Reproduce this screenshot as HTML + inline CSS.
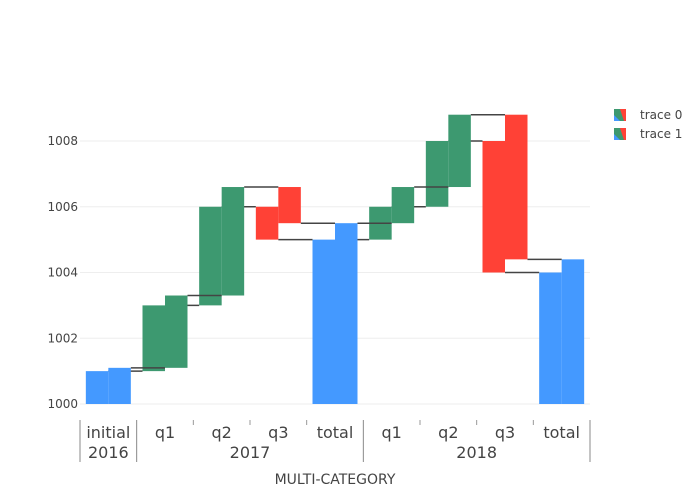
<!DOCTYPE html>
<html><head><meta charset="utf-8"><style>
body{margin:0;background:#fff;font-family:"DejaVu Sans",sans-serif;}
svg text{font-family:"DejaVu Sans","Liberation Sans",sans-serif;}
</style></head><body>
<svg id="chart" width="700" height="500" xmlns="http://www.w3.org/2000/svg">
<g id="grid"></g>
<g id="bars"></g>
<g id="xaxis"></g>
<g id="yaxis"></g>
<text x="335" y="484" text-anchor="middle" font-size="14" fill="#444">MULTI-CATEGORY</text>
<g>
  <g>
    <rect x="614" y="109" width="12" height="12" fill="#3D9970"/><polygon points="620,109 626,109 626,121 624,121" fill="#FF4136"/><polygon points="614,115 620,121 614,121" fill="#4499FF"/>
    <text x="640" y="119" font-size="12" fill="#444">trace 0</text>
  </g>
  <g>
    <rect x="614" y="128" width="12" height="12" fill="#3D9970"/><polygon points="620,128 626,128 626,140 624,140" fill="#FF4136"/><polygon points="614,134 620,140 614,140" fill="#4499FF"/>
    <text x="640" y="138" font-size="12" fill="#444">trace 1</text>
  </g>
</g>
</svg>
<script>
const innerCats = ["initial","q1","q2","q3","total","q1","q2","q3","total"];
const outerCats = ["2016","2017","2018"];
const outerSpans = [1,4,4];
const measures = ["absolute","relative","relative","relative","total","relative","relative","relative","total"];
const trace0 = [1,2,3,-1,null,1,2,-4,null];
const trace1 = [1.1,2.2,3.3,-1.1,null,1.1,2.2,-4.4,null];
const yTicks = [1000,1002,1004,1006,1008];
const base = 1000;

const NS="http://www.w3.org/2000/svg";
const X0=80,X1=590,Y0=404,Ypx=263/8;
const cw=(X1-X0)/innerCats.length;
const y=v=>Y0-(v-1000)*Ypx;
const cx=i=>X0+cw*(i+0.5);
function mk(tag,attrs,parent){const e=document.createElementNS(NS,tag);for(const k in attrs)e.setAttribute(k,attrs[k]);parent.appendChild(e);return e;}
const grid=document.getElementById('grid'),bars=document.getElementById('bars'),xa=document.getElementById('xaxis'),ya=document.getElementById('yaxis');
yTicks.forEach(t=>{
  const l=mk('line',{x1:X0,x2:X1,y1:y(t),y2:y(t),stroke:'#eee','stroke-width':1},grid);
  
  
  const tx=mk('text',{x:X0-2,y:y(t)+4,'text-anchor':'end','font-size':12,fill:'#444'},ya);
  tx.textContent=t;
  
  
});
const bw=22.5;
[trace0,trace1].forEach((tr,ti)=>{
  let cum=base;
  const ends=[];
  tr.forEach((v,i)=>{
    let a,b,col;
    if(measures[i]==='total'){a=base;b=cum;col='#4499FF';}
    else if(measures[i]==='absolute'){a=base;b=base+v;cum=b;col='#4499FF';}
    else{a=cum;b=cum+v;cum=b;col=v>=0?'#3D9970':'#FF4136';}
    const left=cx(i)-bw+ti*bw;
    const r=mk('rect',{x:left,y:Math.min(y(a),y(b)),width:bw,height:Math.abs(y(a)-y(b)),fill:col},bars);
    
    
    ends.push({left,right:left+bw,val:cum});
  });
  for(let i=0;i<ends.length-1;i++){
    const c=mk('line',{x1:ends[i].right,x2:ends[i+1].left,y1:y(ends[i].val),y2:y(ends[i].val),stroke:'#444','stroke-width':1.5},bars);
    
    
  }
});
innerCats.forEach((c,i)=>{
  const t=mk('text',{x:cx(i),y:438,'text-anchor':'middle','font-size':16,fill:'#444'},xa);
  t.textContent=c;
  
  
});
let start=0;
const divs=[0];
outerCats.forEach((c,k)=>{
  const mid=X0+cw*(start+outerSpans[k]/2);
  const t=mk('text',{x:mid,y:458,'text-anchor':'middle','font-size':16,fill:'#444'},xa);
  t.textContent=c;
  
  
  for(let j=1;j<outerSpans[k];j++){
    const xx=X0+cw*(start+j);
    mk('line',{x1:xx,x2:xx,y1:420,y2:425,stroke:'#999','stroke-width':1},xa);
  }
  start+=outerSpans[k];divs.push(start);
});
divs.forEach(d=>{const xx=X0+cw*d;mk('line',{x1:xx,x2:xx,y1:420,y2:462,stroke:'#888','stroke-width':1},xa);});
</script>
</body></html>
